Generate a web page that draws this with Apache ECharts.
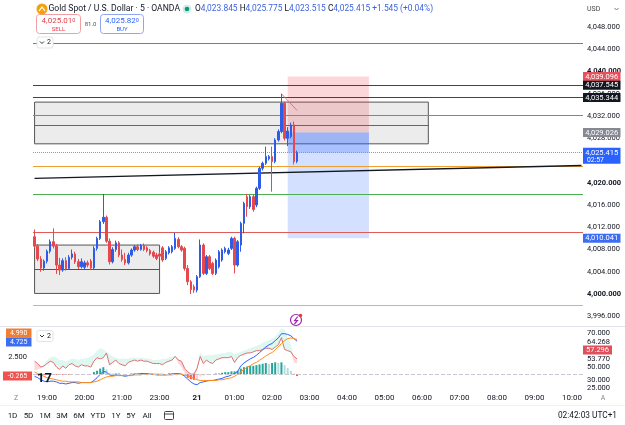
<!DOCTYPE html>
<html><head><meta charset="utf-8">
<script src="https://cdn.jsdelivr.net/npm/echarts@6/dist/echarts.min.js"></script>
<style>html,body{margin:0;padding:0;background:#fff}#c{width:625px;height:425px}</style>
</head><body><div id="c"></div>
<script>
// ---- time categories (session 1: 18:40-21:55, session 2: 23:00 onward) ----
function makeTimes(start, n){const p=start.split(':').map(Number);const t0=p[0]*60+p[1];const out=[];for(let k=0;k<n;k++){const mm=(t0+5*k)%1440;out.push(String(Math.floor(mm/60)).padStart(2,'0')+':'+String(mm%60).padStart(2,'0'));}return out;}
const categories = makeTimes('18:40',40).concat(makeTimes('23:00',136));

// ---- candles ----
const open = [4010.3,4008.6,4006.3,4004.7,4005.9,4007.7,4009.4,4008.6,4005.2,4004.3,4006.0,4004.6,4006.6,4007.2,4005.8,4004.9,4004.8,4005.6,4005.9,4004.7,4008.2,4010.0,4013.0,4013.8,4009.5,4005.8,4008.0,4009.2,4007.0,4006.2,4005.6,4007.0,4007.9,4008.5,4008.0,4008.7,4008.3,4007.8,4007.5,4007.0,
4007.2,4008.3,4006.4,4007.4,4007.6,4008.2,4009.8,4008.5,4008.2,4004.6,4002.2,4001.3,4000.7,4003.1,4008.8,4003.7,4006.7,4005.5,4003.7,4004.9,4006.1,4007.6,4007.3,4008.2,4010.0,4005.2,4008.8,4012.7,4017.5,4015.7,4017.5,4016.0,4019.0,4022.6,4023.5,4024.3,4024.7,4023.8,4027.7,4029.2,4034.3,4028.0,4028.3,4030.4,4023.845];
const close = [4008.6,4006.3,4004.7,4005.9,4007.7,4009.4,4008.6,4005.2,4004.3,4006.0,4004.6,4006.6,4007.2,4005.8,4004.9,4005.8,4005.6,4005.2,4004.7,4008.2,4010.0,4013.0,4013.8,4009.5,4005.8,4008.0,4009.2,4007.0,4006.2,4005.6,4007.0,4007.9,4008.5,4008.0,4008.7,4008.0,4007.8,4007.2,4006.8,4006.4,
4006.8,4006.1,4007.6,4008.3,4008.5,4010.0,4008.5,4007.9,4004.6,4002.2,4000.8,4000.7,4003.1,4008.8,4003.7,4006.7,4004.6,4003.7,4006.1,4007.6,4007.9,4008.2,4007.9,4010.0,4005.2,4009.4,4012.7,4016.3,4015.7,4017.5,4015.2,4019.0,4022.6,4023.5,4024.7,4024.7,4023.8,4027.7,4029.2,4034.3,4028.0,4029.3,4030.4,4023.8,4025.415];
const low = [4008.2,4005.9,4004.0,4004.2,4005.5,4007.3,4008.2,4003.6,4003.4,4004.0,4004.2,4004.4,4006.2,4005.4,4004.5,4004.6,4004.5,4004.8,4004.3,4004.5,4007.8,4009.7,4012.6,4009.2,4005.3,4005.5,4007.6,4006.6,4005.8,4005.2,4005.3,4006.7,4007.6,4007.7,4007.8,4007.7,4007.5,4006.9,4006.5,4006.1,
4006.5,4005.8,4006.1,4007.1,4007.3,4007.9,4008.2,4007.6,4004.2,4001.6,4000.0,4000.2,4000.3,4002.9,4003.4,4003.4,4004.3,4003.4,4003.4,4004.6,4005.8,4007.3,4007.0,4007.9,4003.7,4004.9,4007.6,4010.9,4013.9,4015.3,4014.8,4015.6,4018.7,4022.2,4023.2,4024.0,4018.4,4023.5,4027.4,4028.9,4027.6,4026.6,4028.0,4023.3,4023.515];
const high = [4011.6,4009.0,4006.8,4006.2,4008.0,4009.8,4011.8,4009.0,4006.5,4006.4,4006.6,4007.0,4008.0,4007.6,4006.3,4006.4,4006.0,4006.0,4006.3,4008.6,4010.3,4013.3,4018.0,4014.1,4010.0,4008.4,4009.6,4009.5,4008.0,4007.4,4007.4,4008.2,4008.8,4008.9,4009.0,4009.1,4008.6,4008.1,4007.8,4007.4,
4007.6,4008.6,4007.9,4008.6,4008.8,4011.0,4010.2,4008.8,4008.5,4005.2,4002.5,4001.7,4003.4,4009.8,4009.1,4007.0,4007.0,4005.8,4006.4,4007.9,4008.2,4008.5,4008.3,4010.3,4010.3,4009.7,4013.0,4016.6,4018.0,4017.8,4017.9,4019.3,4022.9,4023.8,4026.5,4025.0,4026.5,4028.0,4029.6,4036.0,4034.6,4030.0,4030.8,4031.0,4025.775];

// ---- lower pane: MACD / signal / histogram, RSI and its band ----
const macd = [-0.3,-0.5,-0.8,-1.0,-1.1,-1.0,-1.0,-1.1,-1.3,-1.3,-1.4,-1.3,-1.2,-1.2,-1.3,-1.2,-1.2,-1.2,-1.2,-0.9,-0.5,0.0,0.4,0.3,-0.1,-0.2,-0.1,-0.1,-0.2,-0.3,-0.2,-0.1,0.0,0.0,0.1,0.1,0.1,0.0,0.0,-0.1,
-0.1,-0.1,-0.1,0.0,0.0,0.1,0.1,0.0,-0.3,-0.7,-1.1,-1.4,-1.5,-1.2,-1.1,-1.0,-0.9,-0.9,-0.8,-0.7,-0.6,-0.4,-0.3,-0.1,0.1,0.4,1.2,1.6,1.9,2.2,2.4,2.7,3.1,3.5,3.9,4.2,4.4,4.8,5.2,5.8,5.8,5.7,5.5,5.1,4.725];
const signal = [0.3,0.1,-0.1,-0.3,-0.5,-0.6,-0.7,-0.8,-0.9,-1.0,-1.0,-1.1,-1.1,-1.1,-1.1,-1.2,-1.2,-1.2,-1.2,-1.1,-1.0,-0.8,-0.6,-0.4,-0.3,-0.3,-0.2,-0.2,-0.2,-0.2,-0.2,-0.2,-0.1,-0.1,-0.1,0.0,0.0,0.0,0.0,0.0,
0.0,0.0,-0.1,-0.1,-0.1,0.0,0.0,0.0,-0.1,-0.2,-0.4,-0.6,-0.8,-0.9,-0.9,-0.9,-0.9,-0.9,-0.9,-0.8,-0.8,-0.7,-0.6,-0.5,-0.3,0.0,0.3,0.7,1.0,1.2,1.5,1.7,2.0,2.3,2.6,2.9,3.1,3.5,3.9,4.4,4.8,5.1,5.2,5.1,4.99];
const hist = [0.0,-0.1,-0.1,-0.1,-0.1,0.0,0.0,-0.1,-0.1,-0.1,-0.1,-0.1,0.0,0.0,-0.1,0.0,0.0,0.0,0.0,0.3,0.5,0.8,1.0,0.7,0.2,0.1,0.1,0.1,0.0,-0.1,0.0,0.1,0.1,0.1,0.1,0.1,0.1,0.0,0.0,-0.1,
-0.1,-0.1,0.0,0.1,0.1,0.1,0.1,0.0,-0.2,-0.5,-0.7,-0.8,-0.7,-0.3,-0.2,-0.1,0.0,0.0,0.1,0.1,0.2,0.3,0.3,0.4,0.4,0.5,0.8,1.0,1.1,1.2,1.2,1.3,1.4,1.5,1.6,1.5,1.6,1.7,1.6,1.7,1.3,0.9,0.5,0.1,-0.265];
const rsi = [46,44,41,42,44,46,45,41,39,42,40,43,44,42,41,43,42,42,41,46,49,48,49,53,43,45,47,44,43,42,45,46,47,46,47,46,46,45,44,44,
44,43,45,46,47,50,47,46,40,37,35,35,40,50,44,47,45,44,47,48,49,49,49,50,45,49,51,52,53,53,54,55,55,56,57,57,56,58,60,66,56,55,54,50,48];
const rsiBand = [38,39,40,43,47,49,50,49,47,47,46,47,48,48,47,48,48,49,50,52,55,57,56,54,52,50,49,48,48,48,48,49,49,49,49,49,48,48,47,47,
47,48,48,49,50,51,44,41,36,32,30,31,38,53,50,51,51,51,52,52,53,53,54,54,52,53,54,55,56,57,58,59,60,62,63,64,65,67,70,74,73,66,60,45,44];

// ---- drawings (price levels, zones, position tool) ----
const levelValues = [4045.1, 4037.545, 4035.344, 4032.05, 4023.0, 4018.0, 4011.1, 3998.0];
const levelColors = ['#5b7be6','#444444','#444444','#4aa383','#f0a030','#4caf50','#e05a5a','#80cfe0'];
const currentPrice = 4025.415, countdown = '02:57';
const trendStart = ['18:40', 4020.8], trendEnd = ['10:15', 4023.1];
const zoneUpper = {from:'18:40', to:'06:10', top:4034.5, mid:4030.25, bottom:4027.0};
const zoneLower = {from:'18:40', to:'23:00', top:4008.8, mid:4004.5, bottom:4000.1};
const position = {from:'02:25', to:'04:35', stop:4039.096, entry:4029.026, target:4010.041};
const tagValues = [4039.096, 4037.545, 4035.344, 4029.026, 4010.041];
const tagColors = ['#e8505b','#131722','#131722','#868993','#3d6df2'];
const yTickLabels = [3996,4000,4004,4008,4012,4016,4020,4024,4028,4032,4036,4040,4044,4048];
const boldTicks = [4000,4020,4040];

const UP='#2e5ce6', DOWN='#e5484d';
const fmt3 = v => v.toLocaleString('en-US',{minimumFractionDigits:3,maximumFractionDigits:3});
const candleData = open.map((o,k)=>[o, close[k], low[k], high[k]]);
const histData = hist.map((v,k)=>({value:v,itemStyle:{color: v>=0 ? ((k>0&&v>=hist[k-1])?'#26a69a':'#b2dfdb') : ((k>0&&v<=hist[k-1])?'#ff5252':'#ffcdd2')}}));
const mintBase = rsi.slice(), mintDiff = rsi.map((r,k)=>Math.max(rsiBand[k]-r,0));
const pinkBase = rsi.map((r,k)=>Math.min(rsiBand[k],r)), pinkDiff = rsi.map((r,k)=>Math.max(r-rsiBand[k],0));

const chart = echarts.init(document.getElementById('c'));
const FONT = 'Roboto, sans-serif';
const option = {
  animation:false,
  textStyle:{fontFamily:FONT},
  grid:[{left:33,right:42,top:4.75,height:333.75,containLabel:false,outerBoundsMode:'none'},
        {left:33,right:42,top:327,height:64,containLabel:false,outerBoundsMode:'none'}],
  xAxis:[
    {type:'category',gridIndex:0,data:categories,boundaryGap:true,axisLine:{show:false},axisTick:{show:false},axisLabel:{show:false},splitLine:{show:false}},
    {type:'category',gridIndex:1,data:categories,boundaryGap:true,axisLine:{show:false},axisTick:{show:false},splitLine:{show:false},
     axisLabel:{interval:(i,v)=>v.slice(3)==='00',fontSize:8,color:'#131722',margin:3,
       formatter:v=>v==='00:00'?'{b|21}':v,rich:{b:{fontWeight:'bold',fontSize:8,color:'#131722'}}}}
  ],
  yAxis:[
    {type:'value',gridIndex:0,position:'right',min:3992,max:4052,interval:4,axisLine:{show:false},axisTick:{show:false},splitLine:{show:false},
     axisLabel:{fontSize:7.5,color:'#131722',margin:4,formatter:v=>{if(yTickLabels.indexOf(v)<0)return '';const t=fmt3(v);return boldTicks.indexOf(v)>=0?'{b|'+t+'}':t;},rich:{b:{fontWeight:'bold',fontSize:7.5,color:'#131722'}}}},
    {type:'value',gridIndex:1,position:'left',min:-2.407,max:6.762,show:false,splitLine:{show:false}},
    {type:'value',gridIndex:1,position:'right',min:20.64,max:75.11,show:false,splitLine:{show:false}}
  ],
  series:[
    {type:'line',xAxisIndex:0,yAxisIndex:0,data:[],z:1,silent:true,
     markArea:{silent:true,data:[
       [{xAxis:zoneUpper.from,yAxis:zoneUpper.top,itemStyle:{color:'rgba(170,170,170,0.22)',borderColor:'#555',borderWidth:1}},{xAxis:zoneUpper.to,yAxis:zoneUpper.bottom}],
       [{xAxis:zoneLower.from,yAxis:zoneLower.top,itemStyle:{color:'rgba(170,170,170,0.22)',borderColor:'#555',borderWidth:1}},{xAxis:zoneLower.to,yAxis:zoneLower.bottom}],
       [{xAxis:position.from,yAxis:position.stop,itemStyle:{color:'rgba(242,54,69,0.2)'}},{xAxis:position.to,yAxis:position.entry}],
       [{xAxis:position.from,yAxis:position.entry,itemStyle:{color:'rgba(41,98,255,0.2)'}},{xAxis:position.to,yAxis:position.target}],
       [{xAxis:position.from,yAxis:position.entry,itemStyle:{color:'rgba(41,98,255,0.25)'}},{xAxis:position.to,yAxis:currentPrice}]
     ]},
     markLine:{silent:true,symbol:'none',label:{show:false},data:
       levelValues.map((v,k)=>({yAxis:v,lineStyle:{color:levelColors[k],width:1,type:'solid'}})).concat([
         {yAxis:currentPrice,lineStyle:{color:'#9598a1',width:1,type:'dotted'}},
         [{coord:[zoneUpper.from,zoneUpper.mid],lineStyle:{color:'#666',width:1,type:'solid'}},{coord:[zoneUpper.to,zoneUpper.mid]}],
         [{coord:[zoneLower.from,zoneLower.mid],lineStyle:{color:'#555',width:1,type:'solid'}},{coord:[zoneLower.to,zoneLower.mid]}],
         [{coord:trendStart,lineStyle:{color:'#131722',width:1.3,type:'solid'}},{coord:trendEnd}],
         [{coord:['02:15',4036.0],lineStyle:{color:'#e57373',width:1,type:'solid'}},{coord:['02:40',4033.0]}]
       ])}
    },
    {type:'candlestick',xAxisIndex:0,yAxisIndex:0,data:candleData,barWidth:2,z:5,
     itemStyle:{color:UP,color0:DOWN,borderColor:UP,borderColor0:DOWN,borderWidth:1}},
    {type:'line',xAxisIndex:1,yAxisIndex:2,data:mintBase,stack:'m',symbol:'none',lineStyle:{opacity:0},z:1},
    {type:'line',xAxisIndex:1,yAxisIndex:2,data:mintDiff,stack:'m',symbol:'none',lineStyle:{opacity:0},areaStyle:{color:'rgba(38,200,160,0.22)'},z:1},
    {type:'line',xAxisIndex:1,yAxisIndex:2,data:pinkBase,stack:'p',symbol:'none',lineStyle:{opacity:0},z:1},
    {type:'line',xAxisIndex:1,yAxisIndex:2,data:pinkDiff,stack:'p',symbol:'none',lineStyle:{opacity:0},areaStyle:{color:'rgba(242,54,69,0.28)'},z:1},
    {type:'line',xAxisIndex:1,yAxisIndex:2,data:rsi,symbol:'none',lineStyle:{color:'#e07070',width:1},z:3},
    {type:'bar',xAxisIndex:1,yAxisIndex:1,data:histData,barWidth:2,z:2,
     markLine:{silent:true,symbol:'none',label:{show:false},data:[{yAxis:0,lineStyle:{color:'#c4c7cf',type:'dashed',width:1}}]}},
    {type:'line',xAxisIndex:1,yAxisIndex:1,data:macd,symbol:'none',lineStyle:{color:'#2962ff',width:1},z:4},
    {type:'line',xAxisIndex:1,yAxisIndex:1,data:signal,symbol:'none',lineStyle:{color:'#ff8c1a',width:1},z:4}
  ]
};
chart.setOption(option);

// ---- overlay texts / tags ----
const py = v => chart.convertToPixel({yAxisIndex:0}, v);
const pm = v => chart.convertToPixel({yAxisIndex:1}, v);
const G = [];
const txt = (x,y,t,o)=>G.push({type:'text',z:100,style:Object.assign({x:x,y:y,text:t,fill:'#131722',fontSize:8,fontFamily:FONT,verticalAlign:'middle',align:'left'},o||{})});
const rect = (x,y,w,h,fill,stroke,r)=>G.push({type:'rect',z:99,shape:{x:x,y:y,width:w,height:h,r:r||0},style:{fill:fill,stroke:stroke||null,lineWidth:1}});
// separators
G.push({type:'line',z:90,shape:{x1:0,y1:326.5,x2:625,y2:326.5},style:{stroke:'#e0e3eb',lineWidth:1}});
G.push({type:'line',z:90,shape:{x1:0,y1:405.5,x2:625,y2:405.5},style:{stroke:'#f0f1f4',lineWidth:1}});
// header
G.push({type:'circle',z:100,shape:{cx:42,cy:9,r:5.5},style:{fill:'#f2a20c'}});
G.push({type:'polyline',z:101,shape:{points:[[39,11],[42,7],[45,11]]},style:{stroke:'#fff',lineWidth:1.2,fill:null}});
txt(48.5,9,'Gold Spot / U.S. Dollar · 5 · OANDA',{fontSize:8.6});
G.push({type:'circle',z:100,shape:{cx:187,cy:9,r:4.5},style:{fill:'rgba(8,153,129,0.18)'}});
G.push({type:'circle',z:101,shape:{cx:187,cy:9,r:2.3},style:{fill:'#089981'}});
G.push({type:'text',z:100,style:{x:195,y:9,verticalAlign:'middle',fontSize:8.4,fontFamily:FONT,
  text:'{l|O}{v|'+fmt3(open[84])+'} {l|H}{v|'+fmt3(high[84])+'} {l|L}{v|'+fmt3(low[84])+'} {l|C}{v|'+fmt3(close[84])+'} {v|+1.545 (+0.04%)}',
  rich:{l:{fill:'#131722',fontSize:8.4,fontFamily:FONT},v:{fill:'#3d63dd',fontSize:8.4,fontFamily:FONT}}}});
rect(36.5,14.5,44,19,'#fff','#f0a0a4',3);
G.push({type:'text',z:100,style:{x:58.5,y:20.5,align:'center',verticalAlign:'middle',text:'{a|4,025.01}{s|0}',rich:{a:{fill:'#e0424b',fontSize:8,fontFamily:FONT},s:{fill:'#e0424b',fontSize:5.5,fontFamily:FONT}}}});
txt(58.5,29,'SELL',{align:'center',fill:'#e0424b',fontSize:6});
txt(90.5,24.5,'81.0',{align:'center',fill:'#555',fontSize:6});
rect(100.5,14.5,43,19,'#fff','#90a6ee',3);
G.push({type:'text',z:100,style:{x:122,y:20.5,align:'center',verticalAlign:'middle',text:'{a|4,025.82}{s|0}',rich:{a:{fill:'#2962ff',fontSize:8,fontFamily:FONT},s:{fill:'#2962ff',fontSize:5.5,fontFamily:FONT}}}});
txt(122,29,'BUY',{align:'center',fill:'#2962ff',fontSize:6});
function collapseBtn(x,y){rect(x,y,16,11,'#fff','#e0e3eb',2);G.push({type:'polyline',z:101,shape:{points:[[x+3,y+4.5],[x+5,y+6.5],[x+7,y+4.5]]},style:{stroke:'#333',lineWidth:1,fill:null}});txt(x+10,y+5.7,'2',{fontSize:7});}
collapseBtn(37,37); collapseBtn(37,330.5);
txt(587,9,'USD',{fontSize:7,fill:'#444'});
G.push({type:'polyline',z:101,shape:{points:[[614.5,8],[616.5,10],[618.5,8]]},style:{stroke:'#777',lineWidth:1,fill:null}});
// right price tags
tagValues.forEach((v,k)=>{const y=py(v);rect(583,y-4.5,37.5,9,tagColors[k]);txt(601.7,y+0.3,fmt3(v),{align:'center',fill:'#fff',fontSize:7.5});});
{const y=py(currentPrice);rect(583,y-5,37.5,16,'#2962ff');txt(601.7,y,fmt3(currentPrice),{align:'center',fill:'#fff',fontSize:7.5});txt(587,y+7.2,countdown,{fill:'#fff',fontSize:6.8});}
// lower pane scales
txt(27,pm(2.5),'2.500',{align:'right',fontSize:7.5});
rect(6,328.5,25.5,9,'#ef7d32');txt(18.7,333.2,signal[84].toFixed(3),{align:'center',fill:'#fff',fontSize:7});
rect(6,337.5,25.5,9,'#3b6ef0');txt(18.7,342.2,macd[84].toFixed(3),{align:'center',fill:'#fff',fontSize:7});
rect(3,371.5,29,9,'#ef5350');txt(17.5,376.2,hist[84].toFixed(3),{align:'center',fill:'#fff',fontSize:7});
[['70.000',333],['64.268',341.7],['53.770',359],['50.000',367.6],['30.000',379.7],['25.000',388.3]].forEach(a=>txt(587,a[1],a[0],{fontSize:7.5}));
rect(583,345.5,29,9,'#e0505a');txt(597.5,350.2,'57.296',{align:'center',fill:'#fff',fontSize:7.5});
txt(37,378.5,'17',{fontSize:13,fontWeight:'bold'});
G.push({type:'circle',z:100,shape:{cx:296,cy:320,r:5.5},style:{fill:'#fff',stroke:'#9c27b0',lineWidth:1.2}});
G.push({type:'polyline',z:101,shape:{points:[[297.8,316.5],[294.6,320.6],[297.4,320.6],[294.4,324]]},style:{stroke:'#9c27b0',lineWidth:1.2,fill:null}});
G.push({type:'circle',z:102,shape:{cx:300.5,cy:315.5,r:1.8},style:{fill:'#f23645'}});
txt(16,398,'Z',{align:'center',fill:'#888',fontSize:7});
txt(603,398,'A',{align:'center',fill:'#888',fontSize:7});
// bottom toolbar
[['1D',12.5],['5D',28.5],['1M',45],['3M',62],['6M',79],['YTD',98],['1Y',116],['5Y',131],['All',147]].forEach(a=>txt(a[1],415.5,a[0],{align:'center',fontSize:8}));
rect(164.5,411.5,9,8,'#fff','#444',1);
G.push({type:'line',z:101,shape:{x1:164.5,y1:414,x2:173.5,y2:414},style:{stroke:'#444'}});
txt(617,415.5,'02:42:03 UTC+1',{align:'right',fontSize:8.3});
chart.setOption({graphic:G});
</script></body></html>
